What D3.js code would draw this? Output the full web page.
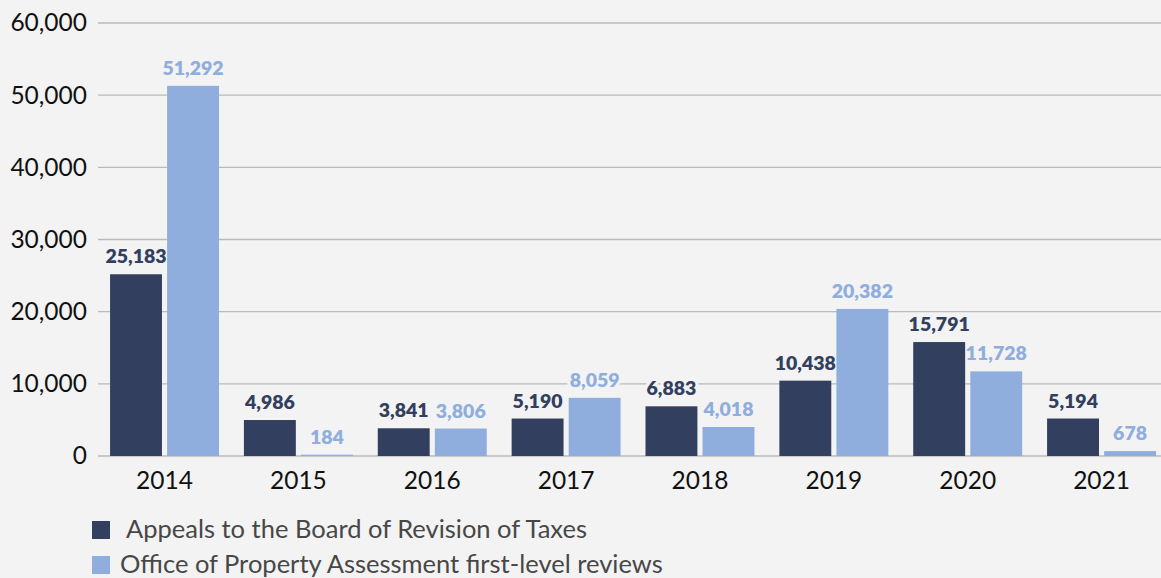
<!DOCTYPE html>
<html><head><meta charset="utf-8">
<script src="https://cdn.jsdelivr.net/npm/d3@7"></script>
<style>
html,body{margin:0;padding:0;background:#f3f3f3;}
svg{display:block;font-family:Lato, "Open Sans", sans-serif;}
</style></head>
<body><svg id="chart" width="1161" height="578"></svg>
<script>
const years = ["2014","2015","2016","2017","2018","2019","2020","2021"];
const appeals = [25183, 4986, 3841, 5190, 6883, 10438, 15791, 5194];
const reviews = [51292, 184, 3806, 8059, 4018, 20382, 11728, 678];
const seriesNames = ["Appeals to the Board of Revision of Taxes", "Office of Property Assessment first-level reviews"];
const yTicks = [0, 10000, 20000, 30000, 40000, 50000, 60000];

(function(){
const colors = ["#323f5f", "#8faedd"];
const svg = d3.select("#chart");
svg.append("rect").attr("width",1161).attr("height",578).attr("fill","#f3f3f3");

const mLeft = 98, mRight = 1161, mTop = 23, mBottom = 456;
const x = d3.scaleBand().domain(years).range([97.6, 1168.5]).paddingInner(0.186).paddingOuter(0.093);
const x1 = d3.scaleBand().domain([0,1]).range([0, x.bandwidth()]).paddingInner(0.09);
const y = d3.scaleLinear().domain([0, 60000]).range([mBottom, mTop]);

const fmt = d3.format(",");

svg.append("g").selectAll("line").data(yTicks).join("line")
  .attr("x1", mLeft).attr("x2", mRight)
  .attr("y1", d => y(d)).attr("y2", d => y(d))
  .attr("stroke", "#bababa").attr("stroke-width", 1.3);

const yAxis = d3.axisLeft(y).tickValues(yTicks).tickFormat(fmt).tickSize(0).tickPadding(11);
const gy = svg.append("g").attr("transform", `translate(${mLeft},0)`).call(yAxis);
gy.select(".domain").remove();
gy.selectAll("text").attr("font-size", 24.5).attr("fill", "#111").attr("font-family", "Lato");

const xAxis = d3.axisBottom(x).tickSize(0).tickPadding(16);
const gx = svg.append("g").attr("transform", `translate(0,${mBottom})`).call(xAxis);
gx.select(".domain").remove();
gx.selectAll("text").attr("font-size", 24.5).attr("fill", "#111").attr("font-family", "Lato");

const data = years.map((yr, i) => ({yr, vals: [appeals[i], reviews[i]]}));

function labels(layer, halo) {
  const g = svg.append("g").selectAll("g").data(data).join("g")
    .attr("transform", d => `translate(${x(d.yr)},0)`);
  const t = g.selectAll("text").data(d => d.vals.map((v, k) => ({v, k}))).join("text")
    .attr("x", d => x1(d.k) + x1.bandwidth()/2)
    .attr("y", d => y(d.v) - 11)
    .attr("text-anchor", "middle")
    .attr("font-size", 19.5).attr("font-weight", 800).attr("font-family", "Lato")
    .text(d => fmt(d.v));
  if (halo) t.attr("fill", "#f3f3f3").attr("stroke", "#f3f3f3").attr("stroke-width", 6).attr("stroke-linejoin", "round");
  else t.attr("fill", d => colors[d.k]);
}

labels(svg, true);

const groups = svg.append("g").selectAll("g").data(data).join("g")
  .attr("transform", d => `translate(${x(d.yr)},0)`);
groups.selectAll("rect").data(d => d.vals.map((v, k) => ({v, k}))).join("rect")
  .attr("x", d => x1(d.k)).attr("width", x1.bandwidth())
  .attr("y", d => y(d.v)).attr("height", d => mBottom - y(d.v))
  .attr("fill", d => colors[d.k]);

labels(svg, false);

const leg = svg.append("g");
seriesNames.forEach((name, i) => {
  const yy = 521 + i * 35;
  leg.append("rect").attr("x", 92).attr("y", yy).attr("width", 18).attr("height", 18).attr("fill", colors[i]);
  leg.append("text").attr("x", i === 0 ? 126 : 120).attr("y", yy + 8).attr("dy", "0.35em")
    .attr("font-size", 25.5).attr("fill", "#474747").attr("font-family", "Lato").text(name);
});
})();
</script></body></html>
